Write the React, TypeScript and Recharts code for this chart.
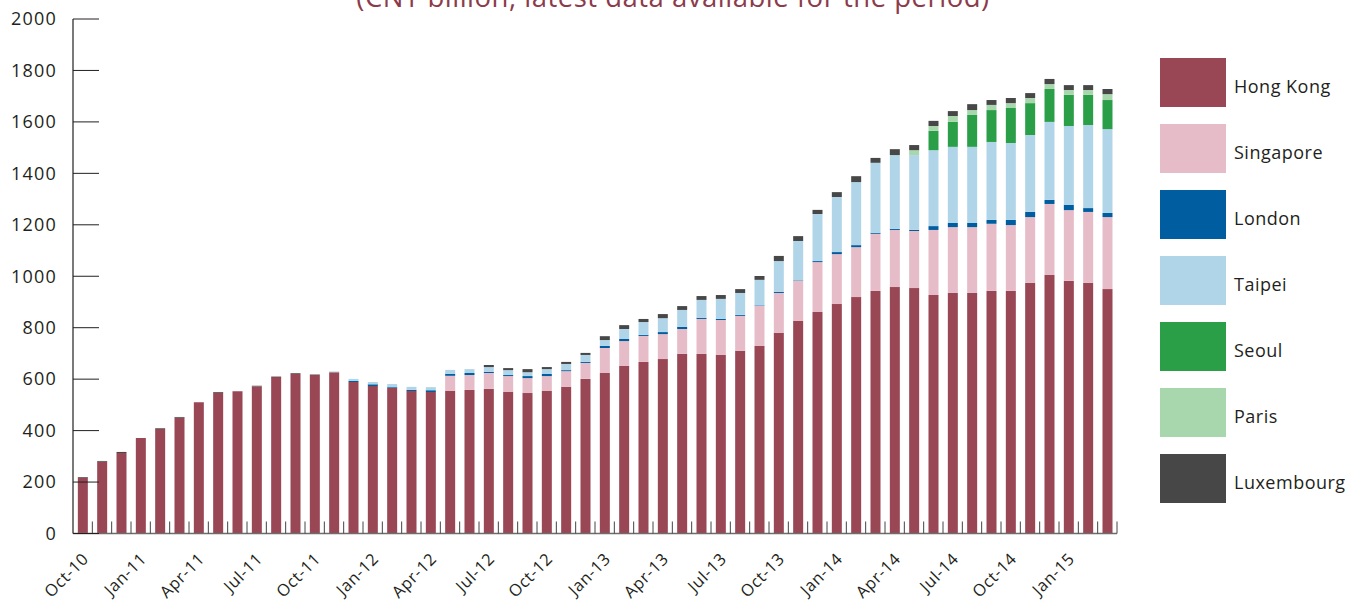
import React from "react";
import { BarChart, Bar, XAxis, YAxis, Legend } from "recharts";

const MONTHS = [
  "Oct-10", "Nov-10", "Dec-10", "Jan-11", "Feb-11", "Mar-11", "Apr-11", "May-11", "Jun-11",
  "Jul-11", "Aug-11", "Sep-11", "Oct-11", "Nov-11", "Dec-11", "Jan-12", "Feb-12", "Mar-12",
  "Apr-12", "May-12", "Jun-12", "Jul-12", "Aug-12", "Sep-12", "Oct-12", "Nov-12", "Dec-12",
  "Jan-13", "Feb-13", "Mar-13", "Apr-13", "May-13", "Jun-13", "Jul-13", "Aug-13", "Sep-13",
  "Oct-13", "Nov-13", "Dec-13", "Jan-14", "Feb-14", "Mar-14", "Apr-14", "May-14", "Jun-14",
  "Jul-14", "Aug-14", "Sep-14", "Oct-14", "Nov-14", "Dec-14", "Jan-15", "Feb-15", "Mar-15",
];

const HONG_KONG = [
  216, 279, 313, 371, 406, 450, 510, 547, 553, 571, 608, 620, 616, 627, 589, 573, 566, 554,
  550, 554, 558, 562, 550, 546, 554, 570, 601, 624, 651, 667, 678, 698, 698, 694, 710, 729,
  780, 826, 861, 892, 919, 943, 958, 954, 927, 935, 935, 943, 943, 974, 1005, 982, 974, 950,
];
const SINGAPORE = [
  0, 0, 0, 0, 0, 0, 0, 0, 0, 0, 0, 0, 0, 0, 0, 0, 0, 0,
  0, 59, 58, 62, 62, 58, 58, 61, 62, 97, 97, 101, 97, 97, 136, 136, 136, 156,
  155, 156, 194, 194, 194, 222, 222, 222, 253, 256, 256, 261, 256, 256, 276, 275, 276, 280,
];
const LONDON = [
  0, 0, 0, 0, 0, 0, 0, 0, 0, 0, 0, 0, 0, 0, 4, 7, 3, 4,
  7, 8, 8, 4, 4, 8, 8, 4, 4, 8, 8, 4, 8, 8, 4, 4, 4, 2,
  4, 2, 4, 8, 8, 4, 4, 4, 15, 16, 16, 15, 20, 20, 16, 20, 15, 16,
];
const TAIPEI = [
  0, 0, 0, 0, 0, 0, 0, 0, 0, 0, 0, 0, 0, 3, 8, 9, 12, 12,
  12, 15, 15, 19, 19, 15, 19, 24, 27, 23, 39, 50, 54, 66, 70, 78, 85, 99,
  120, 153, 183, 214, 245, 272, 287, 291, 295, 296, 296, 303, 299, 299, 303, 307, 323, 326,
];
const SEOUL = [
  0, 0, 0, 0, 0, 0, 0, 0, 0, 0, 0, 0, 0, 0, 0, 0, 0, 0,
  0, 0, 0, 0, 0, 0, 0, 0, 0, 0, 0, 0, 0, 0, 0, 0, 0, 0,
  0, 0, 0, 0, 0, 0, 0, 0, 75, 97, 124, 124, 136, 124, 128, 121, 117, 113,
];
const PARIS = [
  0, 0, 0, 0, 0, 0, 0, 0, 0, 0, 0, 0, 0, 0, 0, 0, 0, 0,
  0, 0, 0, 0, 0, 0, 0, 0, 0, 0, 0, 0, 0, 0, 0, 0, 0, 0,
  0, 0, 0, 0, 0, 0, 0, 19, 19, 23, 19, 20, 19, 20, 19, 19, 19, 23,
];
const LUXEMBOURG = [
  3, 3, 4, 0, 3, 3, 0, 3, 0, 3, 2, 3, 2, 0, 0, 0, 0, 0,
  0, 0, 0, 8, 8, 12, 8, 8, 8, 15, 15, 12, 16, 15, 15, 15, 15, 15,
  20, 19, 16, 19, 23, 19, 23, 20, 20, 19, 23, 19, 20, 19, 20, 19, 19, 20,
];

const Y_TICKS = [0, 200, 400, 600, 800, 1000, 1200, 1400, 1600, 1800, 2000];

const SERIES = [
  { key: "hongKong", name: "Hong Kong", color: "#994655", values: HONG_KONG },
  { key: "singapore", name: "Singapore", color: "#E5BCC8", values: SINGAPORE },
  { key: "london", name: "London", color: "#005DA0", values: LONDON },
  { key: "taipei", name: "Taipei", color: "#B1D5E8", values: TAIPEI },
  { key: "seoul", name: "Seoul", color: "#2A9F48", values: SEOUL },
  { key: "paris", name: "Paris", color: "#A8D7AE", values: PARIS },
  { key: "luxembourg", name: "Luxembourg", color: "#474747", values: LUXEMBOURG },
];

const data = MONTHS.map((month, i) => {
  const row: Record<string, any> = { month };
  SERIES.forEach((s) => (row[s.key] = s.values[i]));
  return row;
});

const W = 1357;
const H = 601;
const PLOT_LEFT = 73;
const PLOT_RIGHT = 1117;
const PLOT_TOP = 19;
const PLOT_BOTTOM = 533.5;
const BAND = (PLOT_RIGHT - PLOT_LEFT) / MONTHS.length;
const FONT = "'Open Sans', sans-serif";
const INK = "#231F20";

function XTick(props: any) {
  const { x, index, payload } = props;
  const edge = x + BAND / 2;
  const lx = x + 7;
  const ly = 560;
  return (
    <g>
      <line x1={edge} x2={edge} y1={PLOT_BOTTOM} y2={PLOT_BOTTOM - 12} stroke="#444" strokeWidth={1} />
      {index % 3 === 0 && (
        <text
          x={lx}
          y={ly}
          textAnchor="end"
          transform={`rotate(-45, ${lx}, ${ly})`}
          fontFamily={FONT}
          fontSize={16.5}
          letterSpacing={0.6}
          fill={INK}
        >
          {payload.value}
        </text>
      )}
    </g>
  );
}

function YTick(props: any) {
  const { y, payload } = props;
  return (
    <g>
      <line x1={PLOT_LEFT} x2={PLOT_LEFT + 26} y1={y} y2={y} stroke={INK} strokeWidth={1} />
      <text x={57} y={y} dy="0.35em" textAnchor="end" fontFamily={FONT} fontSize={18} letterSpacing={1.2} fill={INK}>
        {payload.value}
      </text>
    </g>
  );
}

function LegendBox() {
  return (
    <div>
      {SERIES.map((s) => (
        <div key={s.key} style={{ display: "flex", alignItems: "center", height: 66 }}>
          <div style={{ width: 66, height: 49, background: s.color }} />
          <span
            style={{
              marginLeft: 8,
              fontFamily: FONT,
              fontSize: 18,
              letterSpacing: 0.5,
              color: INK,
              transform: "translateY(3px)",
              whiteSpace: "nowrap",
            }}
          >
            {s.name}
          </span>
        </div>
      ))}
    </div>
  );
}

export default function App() {
  return (
    <div style={{ position: "absolute", left: 0, top: 0, width: W, height: H, overflow: "hidden", background: "#fff" }}>
      <div
        style={{
          position: "absolute",
          left: 0,
          width: 1346,
          top: -22,
          textAlign: "center",
          fontFamily: FONT,
          fontSize: 27.5,
          letterSpacing: 0.5,
          color: "#8C3B4B",
          whiteSpace: "nowrap",
        }}
      >
        (CNY billion, latest data available for the period)
      </div>
      <BarChart
        width={W}
        height={H}
        data={data}
        barCategoryGap="25%"
        margin={{ top: PLOT_TOP, right: W - PLOT_RIGHT, bottom: 0, left: 0 }}
      >
        <XAxis
          dataKey="month"
          height={H - PLOT_BOTTOM}
          interval={0}
          tickLine={false}
          axisLine={{ stroke: "#6d6d6d", strokeWidth: 1.5 }}
          tick={<XTick />}
        />
        <YAxis
          width={PLOT_LEFT}
          domain={[0, 2000]}
          ticks={Y_TICKS}
          interval={0}
          tickLine={false}
          axisLine={{ stroke: INK, strokeWidth: 1.2 }}
          tick={<YTick />}
        />
        <Legend
          layout="vertical"
          align="center"
          verticalAlign="middle"
          content={() => <LegendBox />}
          wrapperStyle={{ left: 1160, top: 49.5, width: 197, height: 470 }}
        />
        {SERIES.map((s) => (
          <Bar key={s.key} dataKey={s.key} name={s.name} stackId="a" fill={s.color} isAnimationActive={false} />
        ))}
      </BarChart>
    </div>
  );
}
